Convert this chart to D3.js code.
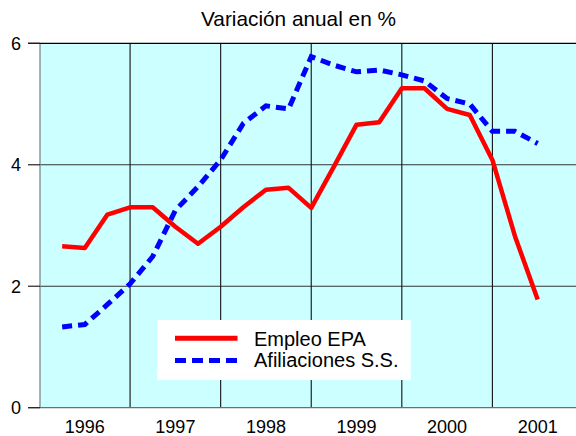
<!DOCTYPE html>
<html>
<head>
<meta charset="utf-8">
<script src="https://cdn.jsdelivr.net/npm/d3@7"></script>
<style>
  html, body { margin: 0; padding: 0; background: #fff; }
  svg { display: block; font-family: Arial, "Liberation Sans", sans-serif; }
</style>
</head>
<body>
<svg id="chart" width="576" height="436"></svg>
<script>
const periods = ["1996T1","1996T2","1996T3","1996T4",
                 "1997T1","1997T2","1997T3","1997T4",
                 "1998T1","1998T2","1998T3","1998T4",
                 "1999T1","1999T2","1999T3","1999T4",
                 "2000T1","2000T2","2000T3","2000T4",
                 "2001T1","2001T2"];
const empleoEPA = [2.66, 2.63, 3.18, 3.30, 3.30, 2.98, 2.70, 2.98, 3.30, 3.59, 3.62, 3.29,
                   3.97, 4.66, 4.70, 5.26, 5.26, 4.92, 4.82, 4.08, 2.82, 1.78];
const afiliaciones = [1.33, 1.37, 1.70, 2.04, 2.49, 3.25, 3.64, 4.08, 4.68, 4.97, 4.92, 5.78,
                      5.64, 5.53, 5.56, 5.48, 5.38, 5.09, 5.00, 4.55, 4.55, 4.35];
const yearLabels = ["1996","1997","1998","1999","2000","2001"];
const yTicks = [0, 2, 4, 6];
const seriesNames = ["Empleo EPA", "Afiliaciones S.S."];
const titleText = "Variación anual en %";

const svg = d3.select("#chart");
const plot = {left: 40, right: 576, top: 43.3, bottom: 407.7};

const periodValue = p => +p.slice(0, 4) + (+p.slice(5)) / 4;

const x = d3.scaleLinear().domain([1996, 2002]).range([39.5, 39.5 + 6 * 90.58]);
const y = d3.scaleLinear().domain([0, 6]).range([plot.bottom, plot.top]);

// background
svg.append("rect")
  .attr("x", plot.left).attr("y", plot.top)
  .attr("width", plot.right - plot.left).attr("height", plot.bottom - plot.top)
  .attr("fill", "#ccffff");

// horizontal grid lines
svg.append("g").selectAll("line").data(yTicks.filter(d => d > 0 && d < 6)).join("line")
  .attr("x1", plot.left).attr("x2", plot.right)
  .attr("y1", d => y(d)).attr("y2", d => y(d))
  .attr("stroke", "#333").attr("stroke-width", 1.2);

// vertical grid lines at year boundaries
const boundaries = yearLabels.slice(1).map(d => +d);
svg.append("g").selectAll("line").data(boundaries).join("line")
  .attr("x1", d => x(d)).attr("x2", d => x(d))
  .attr("y1", plot.top).attr("y2", plot.bottom)
  .attr("stroke", "#111").attr("stroke-width", 1.1);

// left border, bottom, top
svg.append("line").attr("x1", plot.left).attr("x2", plot.left)
  .attr("y1", plot.top).attr("y2", plot.bottom).attr("stroke", "#7a8a8a").attr("stroke-width", 1.3);
svg.append("line").attr("x1", 28).attr("x2", plot.right)
  .attr("y1", plot.bottom).attr("y2", plot.bottom).attr("stroke", "#6a7070").attr("stroke-width", 1.3);
svg.append("line").attr("x1", 28).attr("x2", plot.right)
  .attr("y1", plot.top).attr("y2", plot.top).attr("stroke", "#000").attr("stroke-width", 1.2);

// y ticks
svg.append("g").selectAll("line").data(yTicks).join("line")
  .attr("x1", 28).attr("x2", plot.left)
  .attr("y1", d => y(d)).attr("y2", d => y(d))
  .attr("stroke", "#222").attr("stroke-width", 1.2);
svg.append("g").selectAll("text").data(yTicks).join("text")
  .attr("x", 21).attr("y", d => y(d) + 6.5)
  .attr("text-anchor", "end").attr("font-size", 18).attr("fill", "#000")
  .text(d => d);

// x labels
svg.append("g").selectAll("text").data(yearLabels).join("text")
  .attr("x", d => x(+d + 0.5)).attr("y", 432.5)
  .attr("text-anchor", "middle").attr("font-size", 18).attr("fill", "#000")
  .text(d => d);

// title
svg.append("text").attr("x", 298.5).attr("y", 26)
  .attr("text-anchor", "middle").attr("font-size", 20.8).attr("fill", "#000")
  .text(titleText);

// lines
const line = d3.line().x(d => x(d.t)).y(d => y(d.v));
const epaData = periods.map((p, i) => ({t: periodValue(p), v: empleoEPA[i]}));
const afiData = periods.map((p, i) => ({t: periodValue(p), v: afiliaciones[i]}));

svg.append("path").datum(afiData).attr("d", line)
  .attr("fill", "none").attr("stroke", "#0000ff").attr("stroke-width", 5)
  .attr("stroke-dasharray", "10,6");
svg.append("path").datum(epaData).attr("d", line)
  .attr("fill", "none").attr("stroke", "#ff0000").attr("stroke-width", 4.5)
  .attr("stroke-linejoin", "round");

// legend
const lg = svg.append("g");
lg.append("rect").attr("x", 157.3).attr("y", 320).attr("width", 253.4).attr("height", 60)
  .attr("fill", "#fff");
lg.append("line").attr("x1", 175).attr("x2", 237.5).attr("y1", 338.3).attr("y2", 338.3)
  .attr("stroke", "#ff0000").attr("stroke-width", 5);
lg.append("line").attr("x1", 175).attr("x2", 237.5).attr("y1", 360.5).attr("y2", 360.5)
  .attr("stroke", "#0000ff").attr("stroke-width", 5).attr("stroke-dasharray", "11,6");
lg.selectAll("text").data(seriesNames).join("text")
  .attr("x", 254).attr("y", (d, i) => 345.5 + i * 21.5)
  .attr("font-size", 20).attr("fill", "#000")
  .text(d => d);
</script>
</body>
</html>
